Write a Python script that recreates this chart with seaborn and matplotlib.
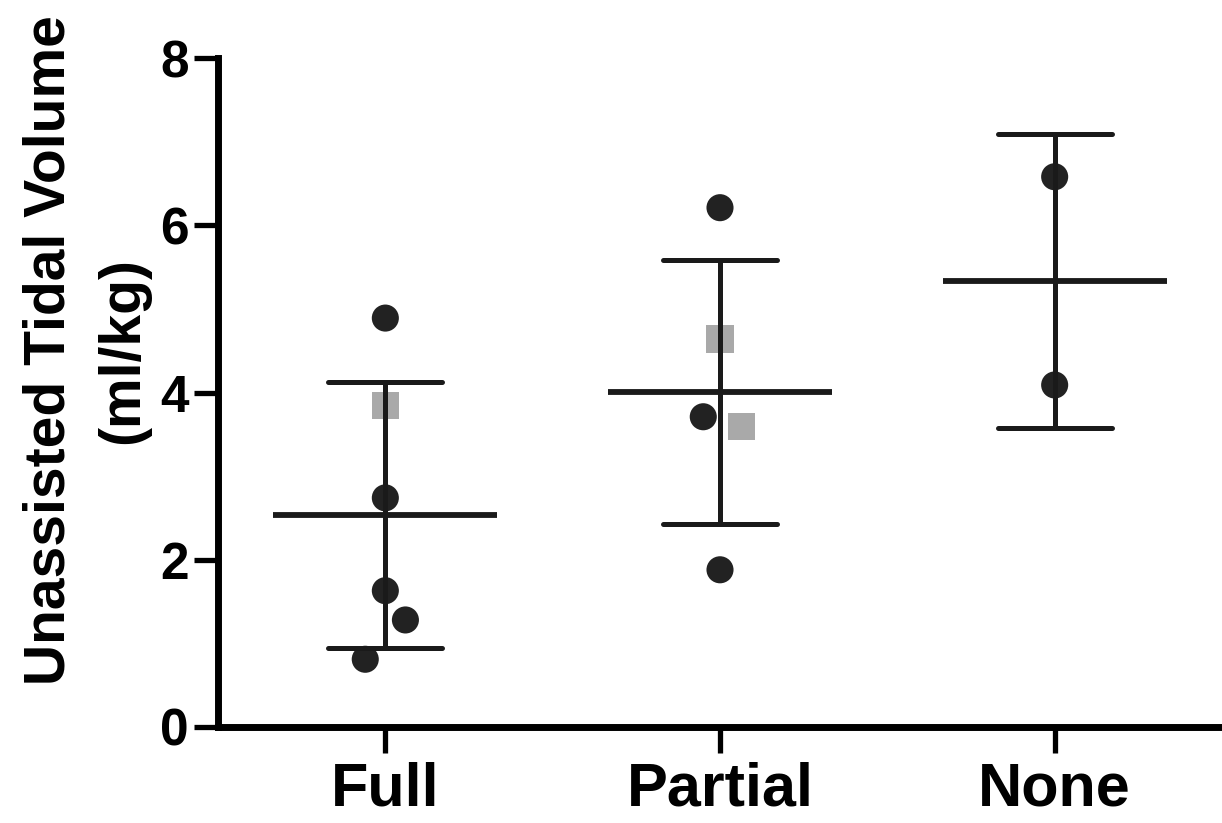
import numpy as np
import pandas as pd
import matplotlib
matplotlib.use("Agg")
import matplotlib.pyplot as plt
import seaborn as sns

# ---- data ----
groups = ["Full", "Partial", "None"]
full_vals = [4.89, 3.85, 2.74, 1.63, 1.28, 0.81]
full_kind = ["circle", "square", "circle", "circle", "circle", "circle"]
partial_vals = [6.21, 4.64, 3.71, 3.59, 1.88]
partial_kind = ["circle", "square", "circle", "square", "circle"]
none_vals = [6.58, 4.09]
none_kind = ["circle", "circle"]
y_ticks = [0, 2, 4, 6, 8]

# horizontal spread of overlapping points (layout)
full_dx = [0, 0, 0, 0, 0.06, -0.06]
partial_dx = [0, 0, -0.05, 0.065, 0]
none_dx = [0, 0]

rows = []
for gi, (g, vals, kinds, dxs) in enumerate(zip(
        groups, [full_vals, partial_vals, none_vals],
        [full_kind, partial_kind, none_kind], [full_dx, partial_dx, none_dx])):
    for v, k, d in zip(vals, kinds, dxs):
        rows.append({"group": g, "value": v, "kind": k, "xpos": gi + d})
df = pd.DataFrame(rows)

sns.set_style("ticks")
plt.rcParams["font.family"] = ["Liberation Sans", "DejaVu Sans"]
plt.rcParams["font.weight"] = "bold"
plt.rcParams["text.color"] = "black"
plt.rcParams["axes.labelcolor"] = "black"
plt.rcParams["xtick.color"] = "black"
plt.rcParams["ytick.color"] = "black"
plt.rcParams["xtick.labelcolor"] = "black"
plt.rcParams["ytick.labelcolor"] = "black"

fig = plt.figure(figsize=(12.22, 8.23), dpi=100)
ax = fig.add_axes([218 / 1222, 96 / 823, 1004 / 1222, 669 / 823])

sns.scatterplot(data=df, x="xpos", y="value", hue="kind", style="kind",
                markers={"circle": "o", "square": "s"},
                palette={"circle": "#222222", "square": "#a9a9a9"},
                s=380, linewidth=0, legend=False, ax=ax, zorder=2, clip_on=False)

sns.pointplot(data=df, x="group", y="value", order=groups, estimator="mean",
              errorbar="sd", capsize=0.34, color="#1a1a1a", linestyle="none",
              marker="_", markersize=161, markeredgewidth=4.2,
              err_kws={"linewidth": 3.6, "solid_capstyle": "round"}, ax=ax)

for coll in ax.collections:
    coll.set_zorder(1)

ax.set_xlim(-0.5, 2.5)
ax.set_ylim(0, 8)
ax.set_xticks(range(len(groups)))
ax.set_xticklabels(groups, fontsize=44, fontweight="bold", color="black")
ax.set_yticks(y_ticks)
ax.set_yticklabels([str(t) for t in y_ticks], fontsize=37, fontweight="bold",
                   color="black")
ax.tick_params(axis="both", length=17, width=3.8, color="black", pad=4)
ax.tick_params(axis="x", length=19, pad=6)

for side in ["top", "right"]:
    ax.spines[side].set_visible(False)
for side in ["left", "bottom"]:
    ax.spines[side].set_linewidth(5)
    ax.spines[side].set_color("black")

ax.set_xlabel("")
ax.set_ylabel("Unassisted Tidal Volume\n(ml/kg)", fontsize=41, fontweight="bold",
              linespacing=1.45, color="black")
ax.yaxis.set_label_coords(-0.068, 0.563)

fig.savefig("out.png", dpi=100)
